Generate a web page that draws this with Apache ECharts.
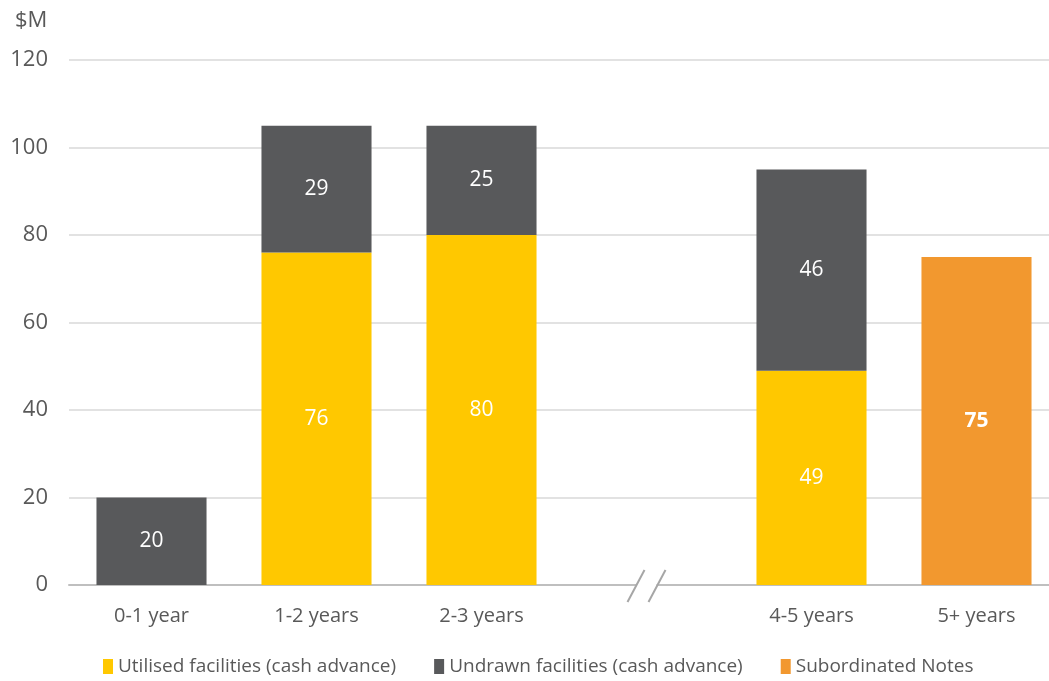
<!DOCTYPE html>
<html>
<head>
<meta charset="utf-8">
<script src="https://cdn.jsdelivr.net/npm/echarts@6/dist/echarts.min.js"></script>
<style>
  html, body { margin: 0; padding: 0; background: #fff; }
  #main { width: 1049px; height: 681px; }
</style>
</head>
<body>
<div id="main"></div>
<script>
var categories = ['0-1 year', '1-2 years', '2-3 years', '', '4-5 years', '5+ years'];
var utilised = [null, 76, 80, null, 49, null];
var undrawn = [20, 29, 25, null, 46, null];
var subordinated = [null, null, null, null, null, 75];
var yTicks = [0, 20, 40, 60, 80, 100, 120];

var FONT = '"Open Sans", sans-serif';
var textGrey = '#595959';

function segLabel(bold) {
  return {
    show: true,
    position: 'inside',
    color: '#fff',
    fontFamily: FONT,
    fontSize: 21,
    fontWeight: bold ? 'bold' : 'normal',
    formatter: function (p) { return p.value == null ? '' : p.value; }
  };
}

var option = {
  animation: false,
  textStyle: { fontFamily: FONT },
  title: {
    text: '$M',
    left: 10,
    top: 5,
    textStyle: { fontFamily: FONT, fontSize: 22, fontWeight: 'normal', color: textGrey }
  },
  grid: { left: 69, width: 990, top: 60, bottom: 96, containLabel: false, outerBoundsMode: 'none' },
  legend: {
    bottom: 0,
    left: 98,
    itemWidth: 10,
    itemHeight: 15,
    itemGap: 38,
    icon: 'rect',
    textStyle: { fontFamily: FONT, fontSize: 19, color: textGrey },
    data: ['Utilised facilities (cash advance)', 'Undrawn facilities (cash advance)', 'Subordinated Notes']
  },
  xAxis: {
    type: 'category',
    data: categories,
    axisTick: { show: false },
    axisLine: { lineStyle: { color: '#bfbfbf', width: 2 } },
    axisLabel: { fontFamily: FONT, fontSize: 20, color: textGrey, margin: 21 }
  },
  yAxis: {
    type: 'value',
    min: yTicks[0],
    max: yTicks[yTicks.length - 1],
    interval: 20,
    axisLine: { show: false },
    axisTick: { show: false },
    splitLine: { lineStyle: { color: '#d9d9d9', width: 1.5 } },
    axisLabel: { fontFamily: FONT, fontSize: 22, color: textGrey, margin: 21 }
  },
  series: [
    {
      name: 'Utilised facilities (cash advance)',
      type: 'bar',
      stack: 'total',
      barCategoryGap: '33.3%',
      data: utilised,
      itemStyle: { color: '#ffc800' },
      label: segLabel(false)
    },
    {
      name: 'Undrawn facilities (cash advance)',
      type: 'bar',
      stack: 'total',
      data: undrawn,
      itemStyle: { color: '#58595b' },
      label: segLabel(false)
    },
    {
      name: 'Subordinated Notes',
      type: 'bar',
      stack: 'total',
      data: subordinated,
      itemStyle: { color: '#f2982f' },
      label: segLabel(true)
    }
  ]
};

var myChart = echarts.init(document.getElementById('main'));
myChart.setOption(option);

// axis break mark "//" at the empty category
var bx = myChart.convertToPixel({ xAxisIndex: 0 }, 3);
var by = myChart.convertToPixel({ yAxisIndex: 0 }, 0);
myChart.setOption({
  graphic: [
    { type: 'rect', shape: { x: bx - 10, y: by - 3, width: 20, height: 6 }, style: { fill: '#fff' }, z: 100 },
    { type: 'line', shape: { x1: bx - 19, y1: by + 17, x2: bx - 2, y2: by - 15 }, style: { stroke: '#a6a6a6', lineWidth: 2 }, z: 101 },
    { type: 'line', shape: { x1: bx + 2, y1: by + 17, x2: bx + 19, y2: by - 15 }, style: { stroke: '#a6a6a6', lineWidth: 2 }, z: 101 }
  ]
});
</script>
</body>
</html>
